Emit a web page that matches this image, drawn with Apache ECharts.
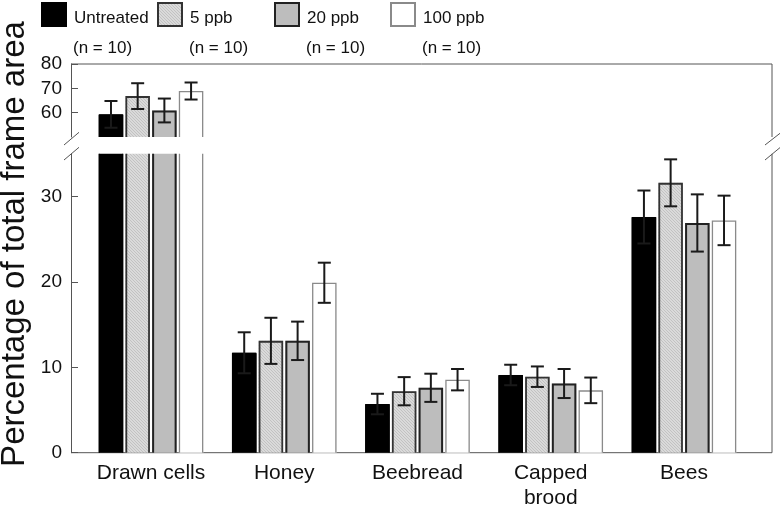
<!DOCTYPE html>
<html><head><meta charset="utf-8">
<script src="https://cdn.jsdelivr.net/npm/echarts@6/dist/echarts.min.js"></script>
<style>html,body{margin:0;padding:0;background:#fff}#c{width:780px;height:506px}</style>
</head><body><div id="c"></div>
<script>
// ---- data ----
const categories = ['Drawn cells', 'Honey', 'Beebread', 'Capped\nbrood', 'Bees'];
const groups = ['Untreated', '5 ppb', '20 ppb', '100 ppb'];
const groupN = ['(n = 10)', '(n = 10)', '(n = 10)', '(n = 10)'];
const untreated   = [59.3, 11.7, 5.7, 9.1, 27.6];
const untreatedSE = [5.5, 2.4, 1.2, 1.2, 3.1];
const ppb5        = [66.8, 13.1, 7.2, 8.9, 31.6];
const ppb5SE      = [5.3, 2.7, 1.65, 1.2, 2.75];
const ppb20       = [60.9, 13.1, 7.6, 8.1, 26.9];
const ppb20SE     = [4.9, 2.25, 1.65, 1.7, 3.35];
const ppb100      = [68.9, 19.9, 8.55, 7.3, 27.2];
const ppb100SE    = [3.5, 2.35, 1.25, 1.5, 2.9];
const upperTicks = [60, 70, 80];
const lowerTicks = [0, 10, 20, 30];
const upperRange = [50, 80];
const lowerRange = [0, 35];

// ---- layout ----
const W = 780, H = 506;
const FL = 71, FR = 772, TOP = 64, UPB = 137, LOWT = 153.8, BOT = 452.7;
const GL = 84.4, GR = 750.6;
const BAR_W = 24.5, STEP = 26.7, CAP = 13;
const AX = '#555';
const FONT = "'Liberation Sans', Arial, Helvetica, sans-serif";

const pc = document.createElement('canvas'); pc.width = 3; pc.height = 3;
const g = pc.getContext('2d');
g.fillStyle = '#dadada'; g.fillRect(0, 0, 3, 3);
g.fillStyle = '#c2c2c2'; for (let k = 0; k < 3; k++) g.fillRect(k, k, 1, 1);
const hatch = { image: pc, repeat: 'repeat' };

const styles = [
  { fill: '#000000', stroke: '#000000', bw: 1 },
  { fill: hatch, stroke: '#333333', bw: 1.8 },
  { fill: '#bdbdbd', stroke: '#222222', bw: 2 },
  { fill: '#ffffff', stroke: '#8a8a8a', bw: 1.3 }
];
const means = [untreated, ppb5, ppb20, ppb100];
const errs = [untreatedSE, ppb5SE, ppb20SE, ppb100SE];

function makeRender(s, lo, hi) {
  return function (params, api) {
    const i = api.value(0), v = api.value(1), se = api.value(2);
    if (!(v > lo)) return null;
    const c0 = api.coord([i, lo]);
    const cx = c0[0] + (s - 1.5) * STEP;
    const x0 = cx - BAR_W / 2, x1 = cx + BAR_W / 2;
    const yb = c0[1];
    const clipped = v > hi;
    const yt = api.coord([i, Math.min(v, hi)])[1];
    const st = styles[s];
    const hw = st.bw / 2;
    const ch = [{ type: 'rect', shape: { x: x0, y: yt, width: BAR_W, height: yb - yt }, style: { fill: st.fill } }];
    if (clipped) {
      ch.push({ type: 'line', shape: { x1: x0 + hw, y1: yt, x2: x0 + hw, y2: yb }, style: { stroke: st.stroke, lineWidth: st.bw } });
      ch.push({ type: 'line', shape: { x1: x1 - hw, y1: yt, x2: x1 - hw, y2: yb }, style: { stroke: st.stroke, lineWidth: st.bw } });
    } else {
      ch.push({ type: 'polyline', shape: { points: [[x0 + hw, yb], [x0 + hw, yt + hw], [x1 - hw, yt + hw], [x1 - hw, yb]] },
        style: { stroke: st.stroke, lineWidth: st.bw, fill: null } });
      const yhi = api.coord([i, Math.min(v + se, hi)])[1];
      const ylo = api.coord([i, Math.max(v - se, lo)])[1];
      const es = { stroke: '#1a1a1a', lineWidth: 2 };
      ch.push({ type: 'line', shape: { x1: cx, y1: yhi, x2: cx, y2: ylo }, style: es });
      ch.push({ type: 'line', shape: { x1: cx - CAP / 2, y1: yhi, x2: cx + CAP / 2, y2: yhi }, style: es });
      if (v - se > lo) ch.push({ type: 'line', shape: { x1: cx - CAP / 2, y1: ylo, x2: cx + CAP / 2, y2: ylo }, style: es });
    }
    return { type: 'group', children: ch };
  };
}

const series = [];
[[0, lowerRange], [1, upperRange]].forEach(([gi, rng]) => {
  groups.forEach((name, s) => {
    series.push({
      type: 'custom', name: name, xAxisIndex: gi, yAxisIndex: gi,
      renderItem: makeRender(s, rng[0], rng[1]),
      encode: { x: 0, y: 1 },
      itemStyle: { color: styles[s].fill, borderColor: styles[s].stroke, borderWidth: 1 },
      data: categories.map((c, i) => [i, means[s][i], errs[s][i]])
    });
  });
});

const legendLeft = [41, 157, 274, 390];
const legends = groups.map((name, i) => ({
  data: [name], left: legendLeft[i], top: 2, padding: 0,
  icon: 'rect', itemWidth: 24, itemHeight: 23, itemGap: 0, selectedMode: false,
  formatter: n => '{a|' + n + '}',
  textStyle: {
    fontFamily: FONT, fontSize: 17, color: '#111',
    rich: { a: { fontFamily: FONT, fontSize: 17, color: '#111', padding: [8, 0, 0, 3] } }
  }
}));
const nTexts = groupN.map((t, i) => ({
  type: 'text', x: legendLeft[i] + 32, y: 48,
  style: { text: t, fontFamily: FONT, fontSize: 17, fill: '#111', align: 'left', verticalAlign: 'middle' }
}));

const yCommon = (rng, ticks, gi) => ({
  type: 'value', gridIndex: gi, min: rng[0], max: rng[1], offset: GL - FL,
  axisLine: { show: true, lineStyle: { color: AX, width: 1 } },
  axisTick: { show: true, inside: true, length: 7, lineStyle: { color: AX }, customValues: ticks },
  axisLabel: { fontSize: 19, fontFamily: FONT, color: '#111', margin: 9, customValues: ticks },
  splitLine: { show: false }
});

const L = (x1, y1, x2, y2) => ({ type: 'line', shape: { x1, y1, x2, y2 }, style: { stroke: AX, lineWidth: 1 }, silent: true });

const option = {
  animation: false,
  backgroundColor: '#fff',
  legend: legends,
  grid: [
    { left: GL, right: W - GR, top: LOWT, bottom: H - BOT, outerBoundsMode: 'none', containLabel: false },
    { left: GL, right: W - GR, top: TOP, bottom: H - UPB, outerBoundsMode: 'none', containLabel: false }
  ],
  xAxis: [
    { type: 'category', gridIndex: 0, data: categories,
      axisLine: { show: false }, axisTick: { show: false },
      axisLabel: { fontSize: 21, fontFamily: FONT, color: '#111', margin: 8, lineHeight: 25, interval: 0 } },
    { type: 'category', gridIndex: 1, data: categories, show: false }
  ],
  yAxis: [yCommon(lowerRange, lowerTicks, 0), yCommon(upperRange, upperTicks, 1)],
  series: series,
  graphic: [
    L(FL, TOP, FR, TOP),
    L(FL, BOT, FR, BOT),
    L(FR, TOP, FR, UPB),
    L(FR, LOWT, FR, BOT),
    L(64, 145, 79, 132.3), L(64, 160, 79, 147.3),
    L(765, 145, 780, 133.3), L(765, 160, 780, 147.6),
    { type: 'text', x: 15, y: 244, rotation: Math.PI / 2,
      style: { text: 'Percentage of total frame area', fontSize: 33, fontFamily: FONT, fill: '#111', align: 'center', verticalAlign: 'middle' } }
  ].concat(nTexts)
};
echarts.init(document.getElementById('c'), null, { renderer: 'canvas' }).setOption(option);
</script></body></html>
